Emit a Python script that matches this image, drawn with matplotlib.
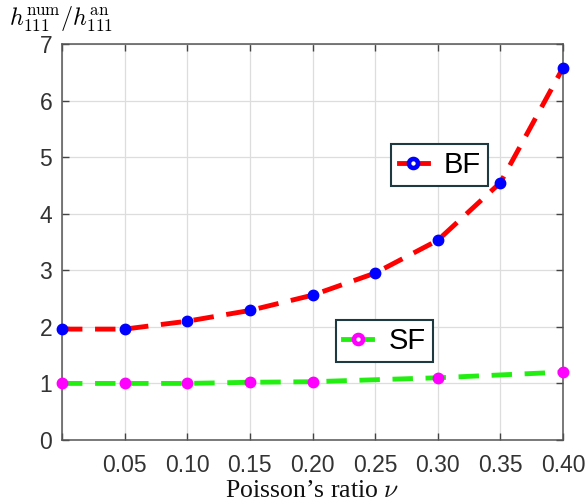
import matplotlib
matplotlib.use("Agg")
import numpy as np
import matplotlib.pyplot as plt
from matplotlib.lines import Line2D
from matplotlib.legend_handler import HandlerLine2D

# values
nu = [0.0, 0.05, 0.10, 0.15, 0.20, 0.25, 0.30, 0.35, 0.40]
bf = [1.96, 1.96, 2.10, 2.29, 2.56, 2.95, 3.53, 4.55, 6.58]
sf_nu = [0.0, 0.05, 0.10, 0.15, 0.20, 0.30, 0.40]
sf = [1.00, 1.00, 1.00, 1.02, 1.03, 1.10, 1.20]
xticks = [0.05, 0.10, 0.15, 0.20, 0.25, 0.30, 0.35, 0.40]
xticklabels = ["0.05", "0.10", "0.15", "0.20", "0.25", "0.30", "0.35", "0.40"]
yticks = [0, 1, 2, 3, 4, 5, 6, 7]

plt.rcParams["mathtext.fontset"] = "cm"
plt.rcParams["font.family"] = ["Liberation Sans", "DejaVu Sans"]


class EndMarker(HandlerLine2D):
    # marker sits at the right end of the legend line, MATLAB style
    def get_xdata(self, legend, xdescent, ydescent, width, height, fontsize):
        xdata = np.array([-xdescent, -xdescent + width])
        return xdata, xdata[-1:]


fig = plt.figure(figsize=(5.86, 5.04), dpi=100)
ax = fig.add_axes([0.1058, 0.127, 0.855, 0.7857])

ax.plot(nu, bf, color="#ff0000", lw=3.5, dashes=(4.2, 2.6), zorder=2)
ax.plot(nu, bf, ls="none", marker="o", ms=7.5, mfc="#0000ff", mec="#0000ff",
        zorder=3, clip_on=False)
ax.plot(sf_nu, sf, color="#22ee11", lw=3.5, dashes=(4.2, 2.6), zorder=2)
ax.plot(sf_nu, sf, ls="none", marker="o", ms=7.5, mfc="#ff00ff", mec="#ff00ff",
        zorder=3, clip_on=False)

ax.set_xlim(0, 0.40)
ax.set_ylim(0, 7)
ax.set_yticks(yticks)
ax.set_xticks([0.0] + xticks)
ax.set_xticklabels([""] + xticklabels)
ax.tick_params(direction="in", length=5, width=1, colors="#444444",
               labelcolor="#333333", labelsize=16.5, top=True, right=True)
ax.tick_params(axis="x", pad=10)
ax.tick_params(axis="y", pad=7)
ax.grid(True, color="#dddddd", lw=0.9)
ax.set_axisbelow(True)
for s in ax.spines.values():
    s.set_color("#555555")
    s.set_linewidth(1.1)

ax.set_xlabel("Poisson\u2019s ratio $\\nu$", family="Liberation Serif",
              fontsize=18.5, labelpad=2, color="#111111")
fig.text(0.016, 0.932, r"$h_{111}^{\rm num}/h_{111}^{\rm an}$", fontsize=17.5,
         ha="left", va="bottom")

h_bf = Line2D([], [], color="#ff0000", lw=3.5, marker="o", ms=6.5, mfc="white",
              mec="#0000ff", mew=3.3)
h_sf = Line2D([], [], color="#22ee11", lw=3.5, marker="o", ms=6.5, mfc="white",
              mec="#ff00ff", mew=3.3)
leg_kw = dict(loc="center", fontsize=21, handlelength=1.0, numpoints=1,
              fancybox=False, framealpha=1, edgecolor="#1e3a40",
              borderpad=0.25, handletextpad=0.55, borderaxespad=0,
              handler_map={Line2D: EndMarker()})
leg1 = ax.legend([h_bf], ["BF"], bbox_to_anchor=(0.754, 0.694), **leg_kw)
leg1.get_frame().set_linewidth(1.5)
ax.add_artist(leg1)
leg2 = ax.legend([h_sf], ["SF"], bbox_to_anchor=(0.643, 0.25), **leg_kw)
leg2.get_frame().set_linewidth(1.5)

fig.savefig("out.png", dpi=100)
